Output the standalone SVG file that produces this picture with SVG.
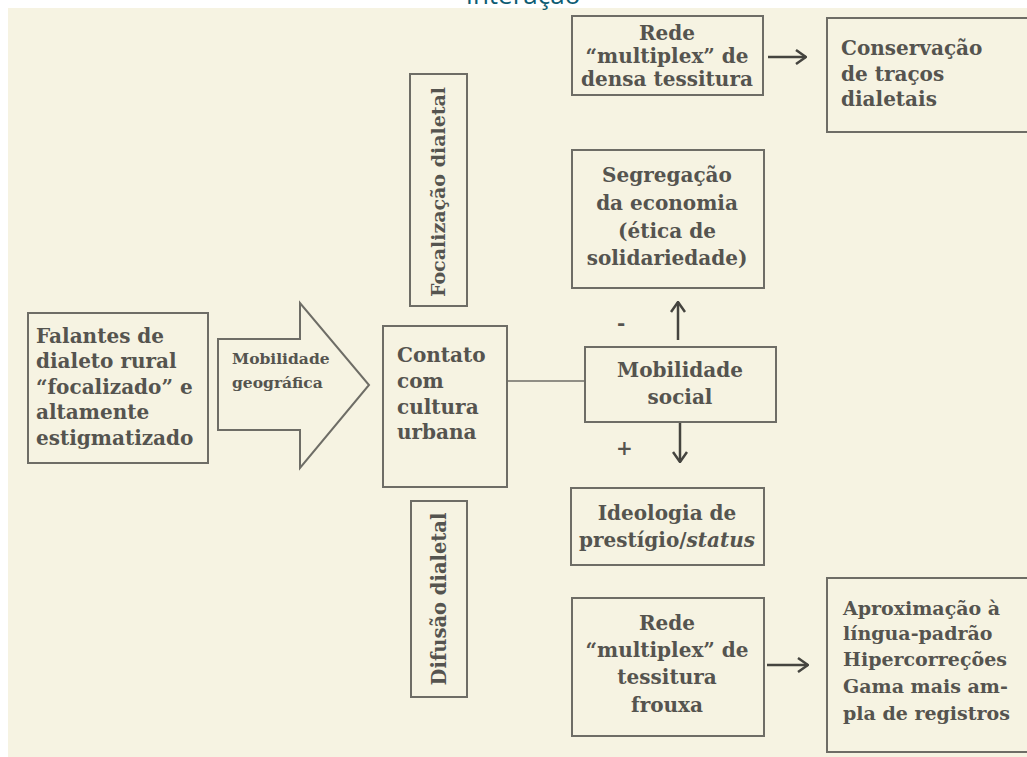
<svg xmlns="http://www.w3.org/2000/svg" width="1027" height="757" viewBox="0 0 1027 757">
<style>
.box{fill:none;stroke:#6e6d66;stroke-width:2}
.t{font-family:"DejaVu Serif","Liberation Serif",serif;font-weight:bold;font-size:20px;fill:#55544f}
.s{font-size:19px}
.c{text-anchor:middle}
.ln{stroke:#45443f;stroke-width:2.5;fill:none}
.thin{stroke:#6e6d66;stroke-width:1.5;fill:none}
</style>
<defs>
<marker id="ah" viewBox="0 0 12 16" refX="11" refY="8" markerWidth="12" markerHeight="16" markerUnits="userSpaceOnUse" orient="auto">
<path d="M1 1 L11 8 L1 15" fill="none" stroke="#45443f" stroke-width="2.5"/>
</marker>
</defs>
<rect x="0" y="0" width="1027" height="757" fill="#ffffff"/>
<rect x="8" y="8" width="1019" height="749" fill="#f6f3e2"/>
<text x="523" y="4" text-anchor="middle" font-family="Open Sans, sans-serif" font-size="26" fill="#0d5c73">Interação</text>

<g id="falantes">
<rect class="box" x="28" y="313" width="180" height="150"/>
<text class="t" x="36" y="343">Falantes de</text>
<text class="t" x="36" y="368">dialeto rural</text>
<text class="t" x="36" y="394">“focalizado” e</text>
<text class="t" x="36" y="419">altamente</text>
<text class="t" x="36" y="445">estigmatizado</text>
</g>

<g id="mobilidade-geografica">
<path class="box" d="M218 339 L300 339 L300 303 L369 385 L300 468 L300 430 L218 430 Z"/>
<text class="t" x="232" y="364" style="font-size:15.5px">Mobilidade</text>
<text class="t" x="232" y="388" style="font-size:15.5px">geográfica</text>
</g>

<g id="focalizacao">
<rect class="box" x="410" y="74" width="57" height="232"/>
<text class="t c" transform="translate(445 192) rotate(-90)" style="font-size:19px">Focalização  dialetal</text>
</g>

<g id="contato">
<rect class="box" x="383" y="326" width="124" height="161"/>
<text class="t" x="397" y="362">Contato</text>
<text class="t" x="397" y="388">com</text>
<text class="t" x="397" y="414">cultura</text>
<text class="t" x="397" y="439">urbana</text>
</g>

<g id="difusao">
<rect class="box" x="411" y="501" width="56" height="196"/>
<text class="t c" transform="translate(446 599) rotate(-90)" style="font-size:19.5px">Difusão  dialetal</text>
</g>

<g id="mobilidade-social">
<rect class="box" x="585" y="347" width="191" height="75"/>
<text class="t c" x="680" y="377">Mobilidade</text>
<text class="t c" x="680" y="404">social</text>
</g>

<g id="rede-densa">
<rect class="box" x="572" y="16" width="191" height="79"/>
<text class="t c" x="667" y="40">Rede</text>
<text class="t c" x="667" y="63">“multiplex” de</text>
<text class="t c" x="667" y="86">densa tessitura</text>
</g>

<g id="conservacao">
<rect class="box" x="827" y="18" width="210" height="114"/>
<text class="t" x="841" y="55">Conservação</text>
<text class="t" x="841" y="81">de traços</text>
<text class="t" x="841" y="106">dialetais</text>
</g>

<g id="segregacao">
<rect class="box" x="572" y="150" width="192" height="138"/>
<text class="t c" x="667" y="182">Segregação</text>
<text class="t c" x="667" y="210">da economia</text>
<text class="t c" x="667" y="238">(ética de</text>
<text class="t c" x="667" y="265">solidariedade)</text>
</g>

<g id="ideologia">
<rect class="box" x="571" y="488" width="193" height="77"/>
<text class="t c" x="667" y="520">Ideologia de</text>
<text class="t c" x="667" y="547">prestígio/<tspan font-style="italic">status</tspan></text>
</g>

<g id="rede-frouxa">
<rect class="box" x="572" y="598" width="192" height="138"/>
<text class="t c" x="667" y="630">Rede</text>
<text class="t c" x="667" y="657">“multiplex” de</text>
<text class="t c" x="667" y="684">tessitura</text>
<text class="t c" x="667" y="712">frouxa</text>
</g>

<g id="aproximacao">
<rect class="box" x="827" y="578" width="210" height="174"/>
<text class="t s" x="843" y="615">Aproximação à</text>
<text class="t s" x="843" y="640">língua-padrão</text>
<text class="t s" x="843" y="666">Hipercorreções</text>
<text class="t s" x="843" y="693">Gama mais am-</text>
<text class="t s" x="843" y="720">pla de registros</text>
</g>

<g id="connectors">
<line class="thin" x1="507" y1="381" x2="585" y2="381"/>
<line class="ln" x1="768" y1="57" x2="806" y2="57" marker-end="url(#ah)"/>
<line class="ln" x1="678" y1="340" x2="678" y2="302" marker-end="url(#ah)"/>
<line class="ln" x1="680" y1="423" x2="680" y2="462" marker-end="url(#ah)"/>
<line class="ln" x1="767" y1="665" x2="808" y2="665" marker-end="url(#ah)"/>
<text class="t" x="617" y="330">-</text>
<text class="t" x="616" y="455">+</text>
</g>
</svg>
